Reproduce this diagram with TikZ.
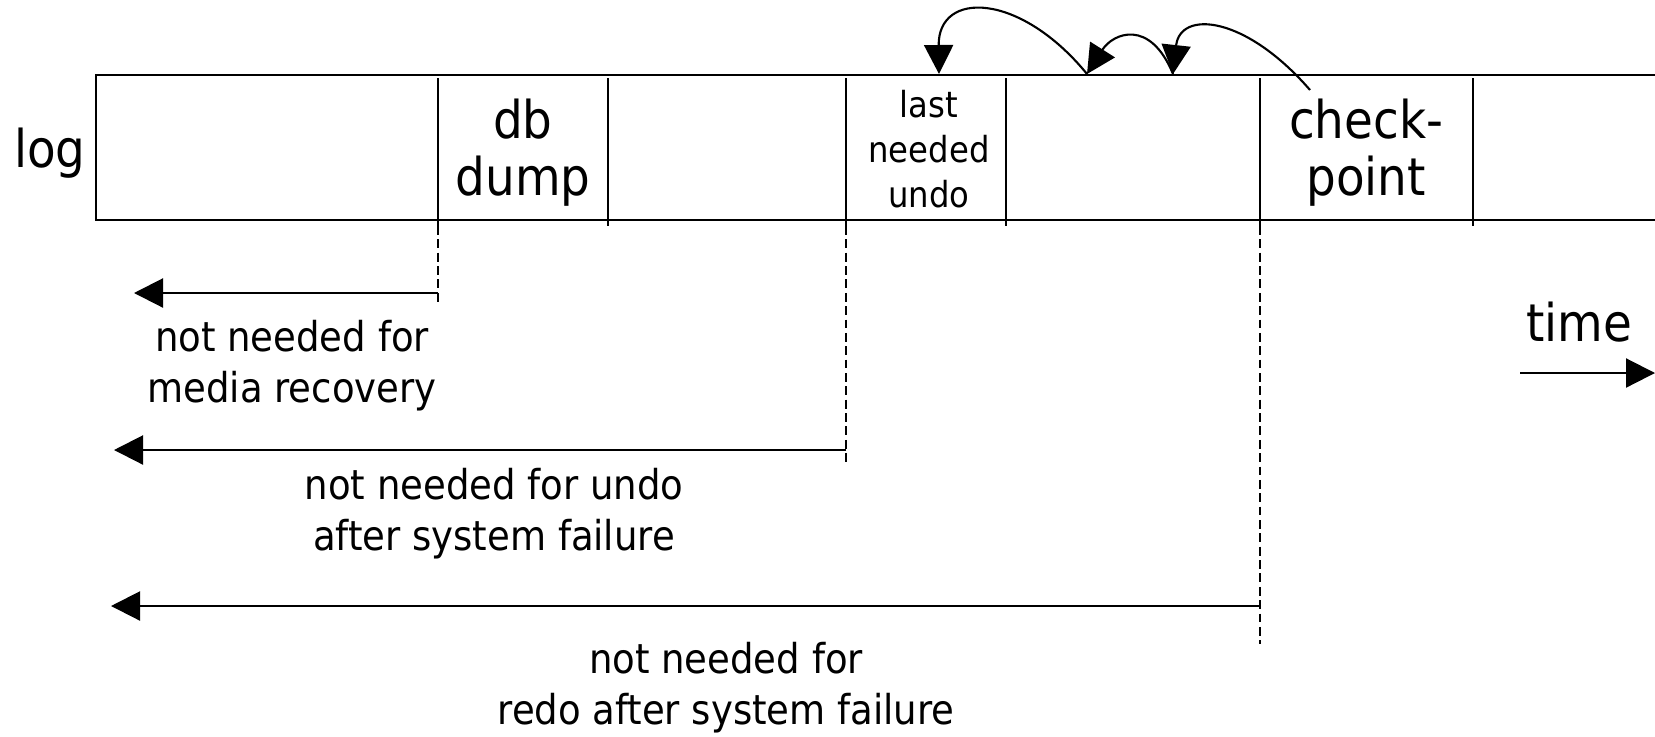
\documentclass[tikz,border=0pt]{standalone}
\usepackage{fontspec}
\setmainfont{DejaVu Sans Condensed}
\usetikzlibrary{arrows.meta}

\tikzset{
  bigtext/.style={align=center,inner sep=0pt,font=\fontsize{14.8}{16.2}\selectfont},
  midtext/.style={align=center,inner sep=0pt,font=\fontsize{11.7}{14.5}\selectfont},
  smalltext/.style={align=center,inner sep=0pt,font=\fontsize{10.2}{12.8}\selectfont},
  tip/.style={-{Triangle[length=2.9mm,width=2.9mm]}},
  cut/.style={dash pattern=on 2.5pt off 1.3pt}
}

\begin{document}
\begin{tikzpicture}[x=0.01cm,y=-0.01cm,line width=0.6pt]
	\useasboundingbox (0,0) rectangle (1655,736);
	% the log, open towards the right
	\draw (1655,75) -- (96,75) -- (96,220) -- (1655,220);
	\foreach \x [count=\i] in {438,608,846,1006,1260,1473}
		\draw (\x,78) -- (\x,226) coordinate (b\i);

	\node[bigtext] (log) at (50,153) {log};
	\node[bigtext] (dump) at (523,153) {db\\dump};
	\node[smalltext] (lastundo) at (929,149) {last\\needed\\undo};
	\node[bigtext] (chkpt) at (1366,153) {check-\\point};

	% backward chain from the checkpoint
	\coordinate (c0) at (1310,90);
	\coordinate (c3) at (1173,74);
	\coordinate (c2) at (1087,74);
	\coordinate (c1) at (939,74);
	\draw[tip] (c0) .. controls (1245,15) and (1180,10) .. (c3);
	\draw[tip] (c3) .. controls (1150,18) and (1113,33) .. (c2);
	\draw[tip] (c2) .. controls (1020,-8) and (938,-10) .. (c1);

	% cut-off points
	\coordinate (d1) at (438,303);
	\coordinate (d3) at (846,465);
	\coordinate (d5) at (1260,644);
	\draw[cut] (b1) -- (d1);
	\draw[cut] (b3) -- (d3);
	\draw[cut] (b5) -- (d5);

	\coordinate (e1) at (134,293);
	\coordinate (e3) at (114,450);
	\coordinate (e5) at (111,606);
	\draw[tip] (b1 |- e1) -- (e1);
	\draw[tip] (b3 |- e3) -- (e3);
	\draw[tip] (b5 |- e5) -- (e5);

	\node[midtext] (media) at (292,366) {not needed for\\media recovery};
	\node[midtext] (undo) at (494,514) {not needed for undo\\after system failure};
	\node[midtext] (redo) at (726,688) {not needed for\\redo after system failure};

	% time axis
	\node[bigtext] (time) at (1579,322) {time};
	\coordinate (t0) at (1520,373);
	\coordinate (t1) at (1655,373);
	\draw[tip] (t0) -- (t1);
\end{tikzpicture}
\end{document}
